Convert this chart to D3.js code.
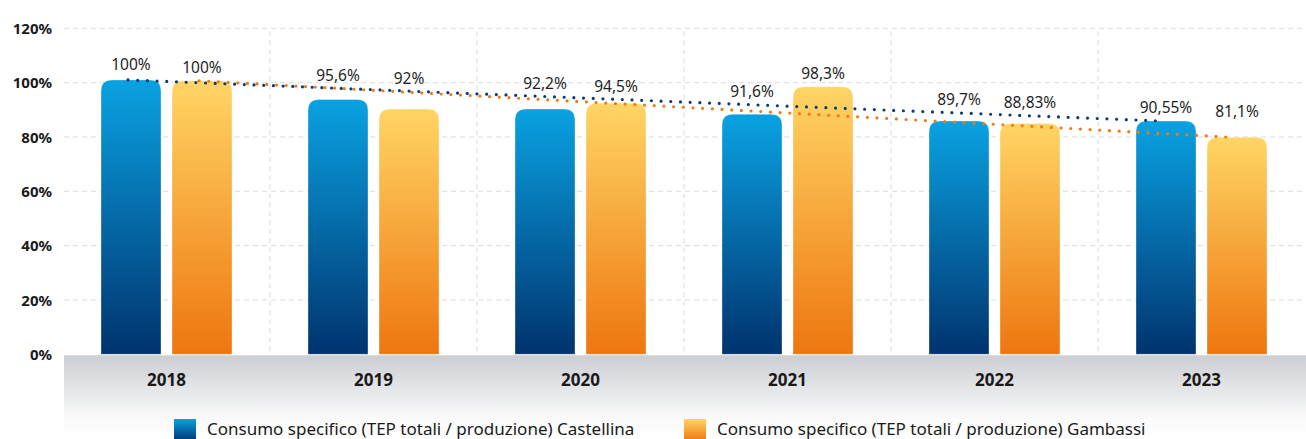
<!DOCTYPE html>
<html><head><meta charset="utf-8">
<script src="https://cdn.jsdelivr.net/npm/d3@7"></script>
<style>
html,body{margin:0;padding:0;background:#fff;}
svg{display:block;font-family:"Noto Sans",sans-serif;}
</style></head>
<body>
<svg id="chart" width="1306" height="439"></svg>
<script>
const years = ["2018","2019","2020","2021","2022","2023"];
const castellina = [101, 93.8, 90.3, 88.4, 85.9, 85.9];
const gambassi = [100.7, 90.3, 92.4, 98.5, 85.0, 79.9];
const castellinaLabels = ["100%","95,6%","92,2%","91,6%","89,7%","90,55%"];
const gambassiLabels = ["100%","92%","94,5%","98,3%","88,83%","81,1%"];
const yTicks = [0,20,40,60,80,100,120];
const seriesNames = ["Consumo specifico (TEP totali / produzione) Castellina","Consumo specifico (TEP totali / produzione) Gambassi"];

(function(){
const svg = d3.select("#chart");
const W = 1306, H = 439;
const mLeft = 63, mRight = 1305, mTop = 28.3, mBottom = 354.3;

const x = d3.scaleBand().domain(years).range([mLeft, mRight]).padding(0);
const inner = d3.scaleBand().domain(["C","G"]).range([38,169]).paddingInner(2 - 131/71).paddingOuter(0);
const y = d3.scaleLinear().domain([0,120]).range([mBottom, mTop]);

const defs = svg.append("defs");
function grad(id, c1, c2){
  const g = defs.append("linearGradient").attr("id", id).attr("x1",0).attr("y1",0).attr("x2",0).attr("y2",1);
  g.append("stop").attr("offset","0%").attr("stop-color",c1);
  g.append("stop").attr("offset","100%").attr("stop-color",c2);
}
grad("gBlue","#0aa2e2","#00336e");
grad("gOrange","#ffd565","#ee760f");
const band = defs.append("linearGradient").attr("id","gBand").attr("x1",0).attr("y1",0).attr("x2",0).attr("y2",1);
band.append("stop").attr("offset","0%").attr("stop-color","#cbced2");
band.append("stop").attr("offset","75%").attr("stop-color","#fafafa");
band.append("stop").attr("offset","100%").attr("stop-color","#ffffff");

svg.append("rect").attr("x", mLeft+1).attr("y", mBottom+1).attr("width", W-mLeft-1).attr("height", H-mBottom-1).attr("fill","url(#gBand)");

svg.append("g").selectAll("line").data(yTicks.filter(d=>d>0)).join("line")
  .attr("x1", mLeft+1).attr("x2", W).attr("y1", d=>y(d)).attr("y2", d=>y(d))
  .attr("stroke","#d9dbe0").attr("stroke-width",1).attr("stroke-dasharray","5,4");
svg.append("g").selectAll("line").data(years.slice(1)).join("line")
  .attr("x1", d=>x(d)).attr("x2", d=>x(d)).attr("y1", y(120)+3).attr("y2", mBottom)
  .attr("stroke","#d9dbe0").attr("stroke-width",1).attr("stroke-dasharray","5,4");

const yAxis = d3.axisLeft(y).tickValues(yTicks).tickFormat(d=>d+"%").tickSize(0).tickPadding(0);
const ya = svg.append("g").attr("transform","translate(52,0)").call(yAxis);
ya.select(".domain").remove();
ya.selectAll("text").attr("font-family","Noto Sans").attr("font-weight","bold").attr("font-size",15).attr("fill","#1a1a1a").attr("dy","0.35em");

const xAxis = d3.axisBottom(x).tickSize(0).tickPadding(0);
const xa = svg.append("g").attr("transform",`translate(0,${mBottom})`).call(xAxis);
xa.select(".domain").remove();
xa.selectAll("text").attr("font-family","Noto Sans").attr("font-weight","bold").attr("font-size",17).attr("fill","#1a1a1a").attr("y",26).attr("dy","0.35em");

function barPath(x0, w, yTop, yBot, r){
  r = Math.min(r, (yBot-yTop));
  return `M${x0},${yBot}V${yTop+r}Q${x0},${yTop} ${x0+r},${yTop}H${x0+w-r}Q${x0+w},${yTop} ${x0+w},${yTop+r}V${yBot}Z`;
}

const series = [
  {key:"C", values:castellina, labels:castellinaLabels, fill:"url(#gBlue)", line:"#0b3a78"},
  {key:"G", values:gambassi, labels:gambassiLabels, fill:"url(#gOrange)", line:"#f07a14"}
];
const n = years.length-1;
series.forEach(s=>{
  s.x1 = x(years[0])+inner(s.key)+inner.bandwidth()/2 - 3;
  s.y1 = y(s.values[0]);
  s.x2 = x(years[n])+inner(s.key)+inner.bandwidth()/2 - 7;
  s.y2 = y(s.values[n]);
});
const trendAt = (s, px) => s.y1 + (s.y2 - s.y1) * (px - s.x1) / (s.x2 - s.x1);

const bars = svg.append("g");
series.forEach(s=>{
  bars.selectAll(null).data(years).join("path")
    .attr("d",(d,i)=>barPath(x(d)+inner(s.key), inner.bandwidth(), y(s.values[i]), mBottom, 11))
    .attr("fill", s.fill)
    .attr("stroke","rgba(255,255,255,0.35)").attr("stroke-width",1);
});

const lines = svg.append("g");
[series[1], series[0]].forEach(s=>{
  lines.append("line")
    .attr("x1", s.x1).attr("y1", s.y1).attr("x2", s.x2).attr("y2", s.y2)
    .attr("stroke", s.line).attr("stroke-width",3.2).attr("stroke-linecap","round")
    .attr("stroke-dasharray","0 9.7");
});

const labs = svg.append("g");
series.forEach(s=>{
  labs.selectAll(null).data(years).join("text")
    .attr("x",(d)=>x(d)+inner(s.key)+inner.bandwidth()/2)
    .attr("y",(d,i)=>{
      const cx = x(d)+inner(s.key)+inner.bandwidth()/2;
      const lim = Math.min(y(s.values[i]), ...series.map(t=>trendAt(t, cx)));
      return lim - 7.5;
    })
    .attr("text-anchor","middle")
    .attr("font-size",15.5).attr("fill","#1f1f1f")
    .text((d,i)=>s.labels[i]);
});

const leg = svg.append("g");
const legX = [174, 684];
const sw = [ "url(#gBlue)", "url(#gOrange)" ];
seriesNames.forEach((name,i)=>{
  leg.append("rect").attr("x",legX[i]).attr("y",419).attr("width",22).attr("height",22).attr("fill",sw[i]);
  leg.append("text").attr("x",legX[i]+33).attr("y",435).attr("font-size",17).attr("fill","#1a1a1a").text(name);
});
})();
</script>
</body></html>
